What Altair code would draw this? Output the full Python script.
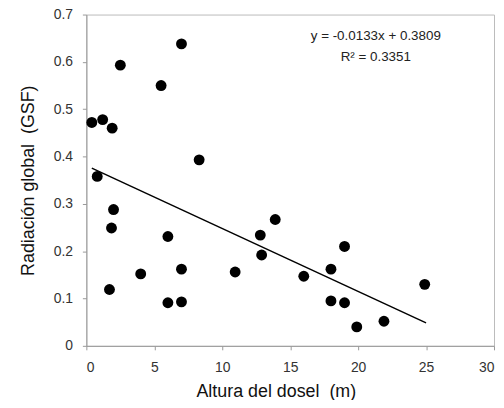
import altair as alt
import pandas as pd

altura = [0.4, 1.2, 1.9, 2.5, 5.5, 7.0, 8.3, 0.8, 2.0, 1.85, 6.0, 4.0, 7.0, 10.95,
          1.7, 6.0, 7.0, 13.9, 12.8, 12.9, 19.0, 18.0, 16.0, 18.0, 19.0, 19.9, 21.9, 24.9]
radiacion = [0.472, 0.478, 0.460, 0.593, 0.550, 0.638, 0.393, 0.358, 0.288, 0.249, 0.231,
             0.152, 0.162, 0.156, 0.119, 0.091, 0.093, 0.267, 0.234, 0.192, 0.210, 0.162,
             0.147, 0.095, 0.091, 0.040, 0.052, 0.130]

slope = -0.0133
intercept = 0.3809
line_x = [0.4, 25.0]
eq_text = ["y = -0.0133x + 0.3809", "R² = 0.3351"]

df = pd.DataFrame({"x": altura, "y": radiacion})
df_line = pd.DataFrame({"x": line_x, "y": [slope * v + intercept for v in line_x]})
df_text = pd.DataFrame({"x": [21.3, 21.3], "y": [0.655, 0.61], "t": eq_text})

font = "Liberation Sans"

xscale = alt.Scale(domain=[0, 30], nice=False)
yscale = alt.Scale(domain=[0, 0.7], nice=False)

xaxis = alt.Axis(values=[0, 5, 10, 15, 20, 25, 30], title="Altura del dosel\u00a0 (m)",
                 grid=False, domainColor="#999999", tickColor="#999999", tickSize=4,
                 labelPadding=11, labelFontSize=14, labelColor="#333333", labelFont=font,
                 titleFont=font, titleFontSize=18, titleFontWeight="normal", titleColor="#111111",
                 titlePadding=8, titleX=191, titleAlign="center")
yaxis = alt.Axis(values=[0, 0.1, 0.2, 0.3, 0.4, 0.5, 0.6, 0.7], format=".1~f",
                 title="Radiación global\u00a0 (GSF)",
                 grid=False, domainColor="#999999", tickColor="#999999", tickSize=4,
                 labelPadding=10, labelFontSize=14, labelColor="#333333", labelFont=font,
                 titleFont=font, titleFontSize=18, titleFontWeight="normal", titleColor="#111111",
                 titlePadding=16)

points = alt.Chart(df).mark_circle(size=120, color="black", opacity=1).encode(
    x=alt.X("x:Q", scale=xscale, axis=xaxis),
    y=alt.Y("y:Q", scale=yscale, axis=yaxis),
)

line = alt.Chart(df_line).mark_line(color="black", strokeWidth=1.5).encode(
    x=alt.X("x:Q", scale=xscale),
    y=alt.Y("y:Q", scale=yscale),
)

text = alt.Chart(df_text).mark_text(font=font, fontSize=13.5, color="#222222", align="center").encode(
    x=alt.X("x:Q", scale=xscale),
    y=alt.Y("y:Q", scale=yscale),
    text="t:N",
)

chart = alt.layer(line, points, text).properties(
    width=411, height=334,
    autosize=alt.AutoSizeParams(type="none"),
    padding={"left": 79, "top": 5, "right": 2, "bottom": 53},
).configure_view(stroke="#bbbbbb", strokeWidth=1)

chart.save("out.html", embed_options={"renderer": "svg", "actions": False})
